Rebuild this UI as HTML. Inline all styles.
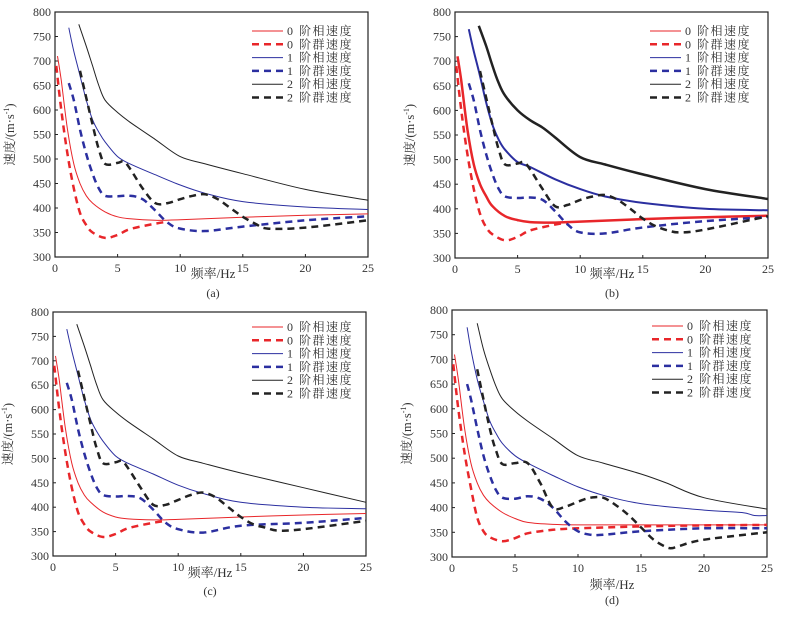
<!DOCTYPE html>
<html><head><meta charset="utf-8"><style>
body{margin:0;background:#fff;width:792px;height:617px;overflow:hidden}
svg text{font-family:"Liberation Serif","Noto Serif CJK SC",serif;fill:#333}
</style></head><body>
<svg id="s" width="792" height="617"></svg>
<script>
const xTicks=[0,5,10,15,20,25];
const yTicks=[300,350,400,450,500,550,600,650,700,750,800];
const legendLabels=["0 阶相速度","0 阶群速度","1 阶相速度","1 阶群速度","2 阶相速度","2 阶群速度"];
const panelLabels=["(a)","(b)","(c)","(d)"];
// series data: [freqs, velocities]
const aP0=[[0.2,0.5,1,1.5,2,2.5,3,4,5,6,8,10,15,20,25],[710,660,560,490,450,425,410,392,382,378,375,376,381,385,388]];
const aG0=[[0.1,0.5,1,1.5,2,2.5,3,4,5,6,8,9],[690,600,510,440,390,365,350,339,345,357,368,372]];
const aP1=[[1.1,1.5,2,2.5,3,3.5,4,5,6,8,10,12,15,20,25],[768,720,670,620,580,555,535,505,490,468,447,430,413,402,397]];
const aG1=[[1.1,1.5,2,2.5,3,3.5,4,5,6,7,8,9,10,12,15,20,25],[655,620,560,510,470,440,425,424,425,418,395,370,358,353,362,375,383]];
const aP2=[[1.9,2.5,3,3.5,4,5,6,8,10,12,15,20,25],[775,730,690,650,620,595,575,540,505,490,470,438,416]];
const aG2=[[2,3,3.5,4,5,5.5,6,7,8,9,10,11,12,13,14,15,16,17,20,25],[680,570,520,490,492,495,480,440,410,410,418,425,428,418,400,382,368,358,360,375]];
const bP0=[[0.2,0.5,1,1.5,2,2.5,3,4,5,6,8,10,15,20,25],[710,660,560,490,450,425,405,385,377,373,372,374,379,383,386]];
const bG0=[[0.1,0.5,1,1.5,2,2.5,3,4,5,6,8,9],[690,600,510,440,390,362,348,336,343,356,368,372]];
const bP1=[[1.1,1.5,2,2.5,3,3.5,4,5,6,8,10,12,15,20,25],[765,720,670,615,570,540,520,495,485,460,440,425,412,400,397]];
const bG1=[[1.1,1.5,2,2.5,3,3.5,4,5,6,7,8,9,10,12,15,20,25],[655,620,560,510,470,440,425,422,423,418,395,368,352,350,362,375,383]];
const bP2=[[1.9,2.5,3,3.5,4,5,6,7,8,10,12,15,20,25],[772,730,690,655,630,600,580,565,545,505,490,470,440,420]];
const bG2=[[2,3,3.5,4,5,5.5,6,7,8,9,10,11,12,13,14,15,16,17,18,20,25],[680,570,520,490,492,495,480,440,405,408,418,425,428,418,400,380,365,356,352,358,385]];
const cP0=[[0.2,0.5,1,1.5,2,2.5,3,4,5,6,8,10,15,20,25],[710,660,560,490,450,425,410,390,380,376,374,375,380,384,387]];
const cG0=[[0.1,0.5,1,1.5,2,2.5,3,4,5,6,8,9],[690,600,510,440,390,365,350,339,345,357,368,372]];
const cP1=[[1.1,1.5,2,2.5,3,3.5,4,5,6,8,10,12,15,20,25],[765,720,670,620,580,555,535,505,490,468,445,428,410,400,397]];
const cG1=[[1.1,1.5,2,2.5,3,3.5,4,5,6,7,8,9,10,12,15,20,25],[655,620,560,510,470,440,425,422,423,418,395,368,355,348,362,368,378]];
const cP2=[[1.9,2.5,3,3.5,4,5,6,8,10,12,15,20,25],[775,730,690,650,620,595,575,540,505,490,470,440,410]];
const cG2=[[2,3,3.5,4,5,5.5,6,7,8,9,10,11,12,13,14,15,16,17,18,20,25],[680,570,520,490,492,495,480,440,405,405,415,425,430,420,400,380,365,358,352,355,372]];
const dP0=[[0.2,0.5,1,1.5,2,2.5,3,4,5,6,8,10,15,20,25],[710,660,560,490,450,425,410,390,378,370,366,365,365,365,365]];
const dG0=[[0.1,0.5,1,1.5,2,2.5,3,4,5,6,8,10,15,20,25],[690,600,510,440,380,352,340,332,338,348,355,358,362,364,365]];
const dP1=[[1.2,1.5,2,2.5,3,3.5,4,5,6,8,10,12,15,20,23,24,25],[765,720,660,615,575,550,530,505,490,465,442,425,408,395,390,384,384]];
const dG1=[[1.2,1.5,2,2.5,3,3.5,4,5,6,7,8,9,10,11,12,15,20,25],[650,620,560,505,465,435,420,418,423,418,400,372,352,345,345,352,358,358]];
const dP2=[[2,2.5,3,3.5,4,5,6,8,10,12,15,17,20,25],[773,720,680,645,620,595,575,540,505,490,468,450,420,397]];
const dG2=[[2,3,3.5,4,5,6,7,8,9,10,11,12,13,14,15,16,17,17.5,18,20,25],[680,560,515,488,490,490,450,400,402,412,420,420,405,385,360,335,320,318,322,335,350]];
const panels=[
 {x0:55,x1:368,y0:12,y1:257,d:[aP0,aG0,aP1,aG1,aP2,aG2],w:[1,2.5,1,2.5,1,2.5],ly:31,lx:252,tx:213,ty:278,py:297},
 {x0:455,x1:768,y0:12,y1:258,d:[bP0,bG0,bP1,bG1,bP2,bG2],w:[2.5,2.5,2,2.5,2.5,2.5],ly:31,lx:650,tx:612,ty:278,py:297},
 {x0:53,x1:366,y0:312,y1:556,d:[cP0,cG0,cP1,cG1,cP2,cG2],w:[1,2.5,1,2.5,1,2.5],ly:327,lx:252,tx:210,ty:577,py:595},
 {x0:452,x1:767,y0:310,y1:557,d:[dP0,dG0,dP1,dG1,dP2,dG2],w:[1,2.5,1,2.5,1,2.5],ly:326,lx:652,tx:612,ty:589,py:604}];
const colors=["#e8262a","#e8262a","#2b2fa0","#2b2fa0","#222","#222"];
const NS="http://www.w3.org/2000/svg",svg=document.getElementById('s');
function mk(t,a,p){const e=document.createElementNS(NS,t);for(const k in a)e.setAttribute(k,a[k]);(p||svg).appendChild(e);return e;}
function smooth(P){let d='M'+P[0][0].toFixed(1)+','+P[0][1].toFixed(1);
 for(let i=0;i<P.length-1;i++){const p0=P[Math.max(0,i-1)],p1=P[i],p2=P[i+1],p3=P[Math.min(P.length-1,i+2)];
  const c1=[p1[0]+(p2[0]-p0[0])/6,p1[1]+(p2[1]-p0[1])/6],c2=[p2[0]-(p3[0]-p1[0])/6,p2[1]-(p3[1]-p1[1])/6];
  d+=' C'+c1.map(v=>v.toFixed(1))+' '+c2.map(v=>v.toFixed(1))+' '+p2.map(v=>v.toFixed(1));}
 return d;}
panels.forEach((p,pi)=>{
 const g=mk('g',{});
 
 
 const sx=v=>p.x0+(v/25)*(p.x1-p.x0), sy=v=>p.y1-(v-300)/500*(p.y1-p.y0);
 const fr=mk('rect',{x:p.x0,y:p.y0,width:p.x1-p.x0,height:p.y1-p.y0,fill:'none',stroke:'#222','stroke-width':1.2},g);
 
 
 yTicks.forEach(v=>{const t=mk('text',{x:p.x0-4,y:sy(v)+4,'text-anchor':'end','font-size':12},g);t.textContent=v;
  
  
  mk('line',{x1:p.x0,x2:p.x0+3,y1:sy(v),y2:sy(v),stroke:'#222'},g);});
 xTicks.forEach(v=>{const t=mk('text',{x:sx(v),y:p.y1+15,'text-anchor':'middle','font-size':12},g);t.textContent=v;
  
  
  mk('line',{x1:sx(v),x2:sx(v),y1:p.y1,y2:p.y1-3,stroke:'#222'},g);});
 const xt=mk('text',{x:p.tx,y:p.ty,'text-anchor':'middle','font-size':13},g);xt.textContent='频率/Hz';
 
 
 const cy=(p.y0+p.y1)/2,cx=p.x0-41;
 const yt=mk('text',{x:cx,y:cy,'text-anchor':'middle','font-size':12.5,transform:`rotate(-90 ${cx} ${cy})`},g);
 yt.innerHTML='速度/(m·s<tspan dy="-5" font-size="8">-1</tspan><tspan dy="5">)</tspan>';
 
 
 const pl=mk('text',{x:p.tx,y:p.py,'text-anchor':'middle','font-size':12},g);pl.textContent=panelLabels[pi];
 
 
 p.d.forEach((s,si)=>{
  const P=s[0].map((f,i)=>[sx(f),sy(s[1][i])]);
  const a={d:smooth(P),fill:'none',stroke:colors[si],'stroke-width':p.w[si],'stroke-linejoin':'round'};
  if(si%2)a['stroke-dasharray']='7 5';
  const l=mk('path',a,g);
  
  
  const y=p.ly+si*13.3;
  const la={x1:p.lx,x2:p.lx+31,y1:y,y2:y,stroke:colors[si],'stroke-width':si%2?2.5:1};
  if(si%2)la['stroke-dasharray']='7 5';
  const ll=mk('line',la,g);
  
  
  const lt=mk('text',{x:p.lx+35,y:y+4,'font-size':12,'letter-spacing':'1.5'},g);lt.textContent=legendLabels[si];
  
  
 });
});
</script></body></html>
